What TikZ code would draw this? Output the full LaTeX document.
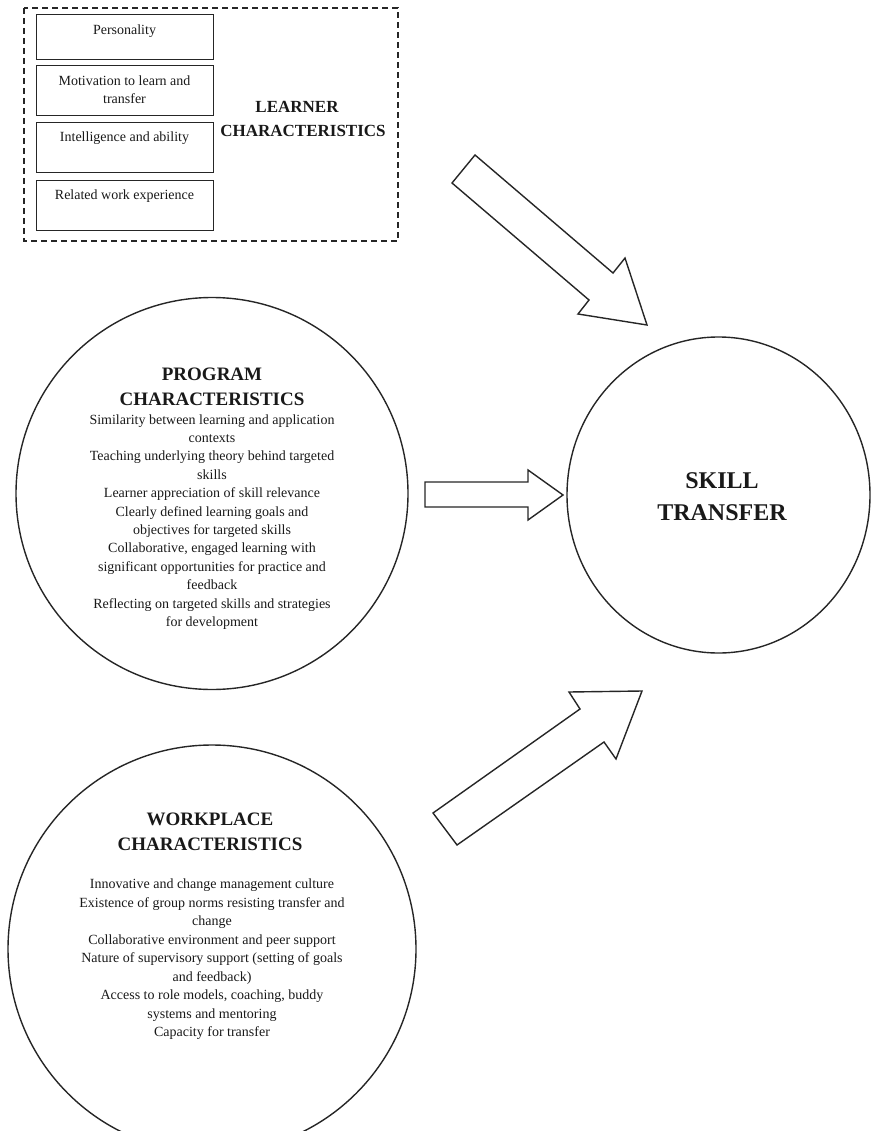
\documentclass[tikz,border=0pt]{standalone}
\usepackage{fontspec}
\setmainfont{Liberation Serif}
\usetikzlibrary{shapes.geometric}
\begin{document}
\begin{tikzpicture}[x=1pt,y=-1pt,
  ink/.style={draw=black!85, line width=1.4pt},
  itembox/.style={ink, rectangle, minimum width=177pt, inner sep=0pt, anchor=north west},
  bubble/.style={ink, circle, inner sep=0pt},
  blockarrow/.style={ink, line join=miter, fill=white},
  small/.style={font=\fontsize{14}{18}\selectfont, text=black!90, inner sep=0pt, anchor=base},
  body/.style={font=\fontsize{14}{18.4}\selectfont, text=black!90, inner sep=0pt, align=center, anchor=base},
  head/.style={font=\fontsize{19}{25}\selectfont\bfseries, text=black!90, inner sep=0pt, align=center, anchor=base},
]
\useasboundingbox (0,0) rectangle (871,1131);

% learner characteristics group (multi-line nodes sit on their last baseline)
\draw[ink, line width=1.4pt, dash pattern=on 6pt off 4pt] (24,8) rectangle (398,241);
\node[itembox, minimum height=45pt] (b1) at (36,14) {};
\node[itembox, minimum height=50pt] (b2) at (36,65) {};
\node[itembox, minimum height=50pt] (b3) at (36,122) {};
\node[itembox, minimum height=50pt] (b4) at (36,180) {};
\node[small] (t1) at (124.5,34.5) {Personality};
\node[small, align=center] (t2) at (124.5,103.5) {Motivation to learn and\\transfer};
\node[small] (t3) at (124.5,141.5) {Intelligence and ability};
\node[small] (t4) at (124.5,199.5) {Related work experience};
\node[head, font=\fontsize{17}{24}\selectfont\bfseries] (learner) at (303,136.6)
  {LEARNER\kern12pt\\CHARACTERISTICS};

% program characteristics
\node[bubble, minimum size=392pt] (prog) at (212,493.5) {};
\node[head] (progh) at (212,405.5) {PROGRAM\\CHARACTERISTICS};
\node[body] (progb) at (212,626.5) {Similarity between learning and application\\contexts\\
Teaching underlying theory behind targeted\\skills\\
Learner appreciation of skill relevance\\
Clearly defined learning goals and\\objectives for targeted skills\\
Collaborative, engaged learning with\\significant opportunities for practice and\\feedback\\
Reflecting on targeted skills and strategies\\for development};

% workplace characteristics
\node[bubble, minimum size=408pt] (work) at (212,949) {};
\node[head] (workh) at (210,850.5) {WORKPLACE\\CHARACTERISTICS};
\node[body, font=\fontsize{14}{18.5}\selectfont] (workb) at (212,1036.5) {Innovative and change management culture\\
Existence of group norms resisting transfer and\\change\\
Collaborative environment and peer support\\
Nature of supervisory support (setting of goals\\and feedback)\\
Access to role models, coaching, buddy\\systems and mentoring\\
Capacity for transfer};

% skill transfer
\node[ink, ellipse, inner sep=0pt, minimum width=303pt, minimum height=316pt] (skill) at (718.5,495) {};
\node[head, font=\fontsize{24}{32}\selectfont\bfseries] (skillt) at (722,520) {SKILL\\TRANSFER};

% block arrows
\draw[blockarrow] (475,155) -- (613,273) -- (625,258) -- (647,325) -- (578,314) -- (589,300) -- (452,183) -- cycle;
\draw[blockarrow] (425,482) -- (528,482) -- (528,470) -- (563,495) -- (528,520) -- (528,507) -- (425,507) -- cycle;
\draw[blockarrow] (433,813) -- (580,709) -- (569,692) -- (642,691) -- (616,759) -- (604,742) -- (457,845) -- cycle;
\end{tikzpicture}
\end{document}
